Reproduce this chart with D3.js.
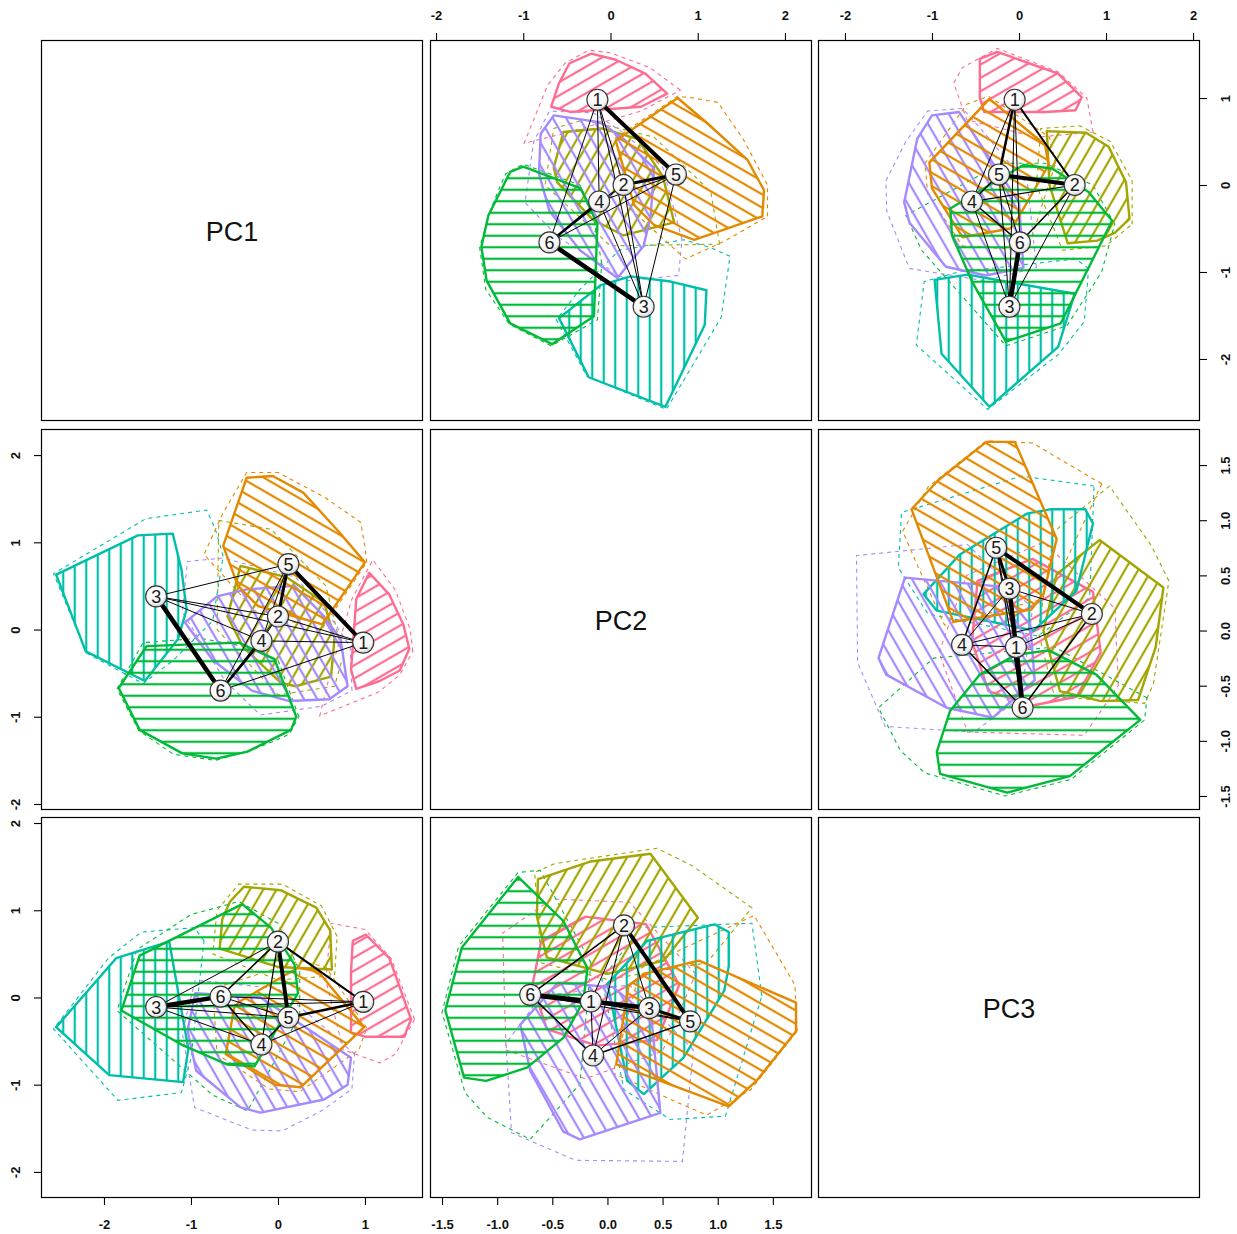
<!DOCTYPE html>
<html><head><meta charset="utf-8">
<script src="https://cdn.jsdelivr.net/npm/d3@7"></script>
<style>body{margin:0;background:#fff} svg{display:block}</style>
</head><body><svg id="c" width="1237" height="1234"></svg>
<script>
// ---------------- DATA ----------------
const varNames = ["PC1", "PC2", "PC3"];
const groupIds = ["1", "2", "3", "4", "5", "6"];
const groupColors = ["#FF6C91", "#A3A500", "#00BFA8", "#A58AFF", "#E38900", "#00BA38"];
const hatchAngles = [30, 60, 90, 120, 150, 180];

const centroidPC1 = [0.98, 0.00, -1.40, -0.19, 0.12, -0.66];
const centroidPC2 = [-0.15, 0.15, 0.38, -0.13, 0.75, -0.70];
const centroidPC3 = [-0.05, 0.64, -0.11, -0.54, -0.23, 0.01];

const edgePairs = [[1,2],[1,3],[1,4],[1,5],[1,6],[2,3],[2,4],[2,5],[2,6],[3,4],[3,5],[3,6],[4,5],[4,6],[5,6]];
const edgeWidthPC1PC2 = [1, 1, 1, 4, 1, 1, 1, 3, 1, 1, 1, 4.5, 1, 2.5, 1];
const edgeWidthPC1PC3 = [2, 1, 1, 2.5, 1, 1, 1.2, 4, 1.5, 1, 1, 4.5, 1.5, 1.5, 1];
const edgeWidthPC2PC3 = [1, 4.5, 1, 1, 5, 1, 1, 4, 1.5, 1, 3, 1, 1.5, 1.5, 1];

// hulls: (first var, second var) per group 1..6
const innerHullPC1PC2 = [
  [[1.05,0.65],[1.28,0.40],[1.44,0.06],[1.51,-0.22],[1.40,-0.47],[1.17,-0.59],[0.90,-0.68],[0.84,-0.46],[0.90,0.35]],
  [[-0.43,0.73],[0.10,0.60],[0.53,0.31],[0.65,-0.10],[0.61,-0.54],[0.20,-0.65],[0.03,-0.61],[-0.40,-0.20],[-0.58,0.15]],
  [[-2.55,0.63],[-2.11,0.82],[-1.61,1.08],[-1.21,1.10],[-1.11,0.69],[-1.05,0.23],[-1.15,-0.11],[-1.53,-0.59],[-2.21,-0.25]],
  [[-1.07,0.08],[-0.70,0.38],[-0.36,0.46],[0.19,0.50],[0.53,0.15],[0.72,-0.11],[0.80,-0.65],[0.59,-0.80],[0.13,-0.82],[-0.30,-0.70],[-0.75,-0.35]],
  [[-0.36,1.74],[-0.06,1.76],[0.29,1.57],[0.71,1.11],[1.00,0.77],[0.85,0.62],[0.59,0.31],[0.51,0.06],[-0.23,0.27],[-0.46,0.50],[-0.63,0.96]],
  [[-1.83,-0.67],[-1.51,-0.19],[-1.00,-0.17],[-0.45,-0.15],[-0.04,-0.34],[0.21,-1.00],[0.15,-1.15],[-0.35,-1.40],[-0.71,-1.48],[-1.10,-1.42],[-1.59,-1.15]]
];
const outerHullPC1PC2 = [
  [[1.09,0.80],[1.35,0.45],[1.52,0.00],[1.55,-0.25],[1.40,-0.52],[1.15,-0.72],[0.48,-0.99],[0.60,-0.50],[0.85,0.35]],
  [[-0.68,1.25],[-0.08,1.15],[0.55,0.50],[0.75,-0.30],[0.65,-0.65],[0.00,-0.75],[-0.70,0.00]],
  [[-2.58,0.64],[-2.05,0.88],[-1.52,1.27],[-0.82,1.37],[-0.72,1.15],[-0.63,0.84],[-0.75,0.10],[-1.20,-0.35],[-1.55,-0.62],[-2.20,-0.27]],
  [[-1.10,0.20],[-1.04,0.78],[-0.63,0.82],[0.20,0.60],[0.60,0.15],[0.83,-0.20],[0.85,-0.70],[0.50,-0.88],[-0.20,-0.98],[-0.60,-0.60]],
  [[-0.64,1.32],[-0.36,1.80],[0.00,1.80],[0.53,1.52],[0.95,1.23],[1.00,0.95],[1.02,0.77],[0.60,0.20],[0.50,0.00],[-0.25,0.20],[-0.85,0.86]],
  [[-1.85,-0.68],[-1.55,-0.15],[-0.90,-0.10],[-0.35,-0.20],[0.00,-0.35],[0.24,-1.00],[0.13,-1.20],[-0.05,-1.28],[-0.30,-1.38],[-0.72,-1.50],[-1.20,-1.43],[-1.60,-1.16]]
];
const innerHullPC1PC3 = [
  [[0.86,0.65],[1.01,0.72],[1.28,0.45],[1.53,-0.25],[1.45,-0.45],[1.00,-0.45],[0.84,-0.40],[0.84,0.30]],
  [[-0.39,1.27],[0.03,1.23],[0.44,1.03],[0.60,0.77],[0.62,0.32],[0.00,0.35],[-0.67,0.56],[-0.64,0.90],[-0.55,1.10]],
  [[-2.55,-0.34],[-1.86,0.45],[-1.25,0.64],[-1.03,-0.59],[-1.09,-0.97],[-1.94,-0.89]],
  [[0.84,-0.69],[0.80,-1.00],[0.53,-1.17],[-0.20,-1.32],[-0.43,-1.26],[-0.94,-0.84],[-1.04,-0.38],[-0.95,0.05],[-0.20,0.00]],
  [[0.23,0.34],[0.46,0.30],[0.99,-0.34],[0.26,-1.03],[-0.04,-1.00],[-0.60,-0.65],[-0.50,-0.10],[-0.43,-0.04]],
  [[-1.80,-0.15],[-1.59,0.48],[-0.41,1.07],[-0.08,0.80],[0.19,0.38],[0.23,0.05],[-0.27,-0.79],[-0.58,-0.77],[-1.11,-0.54]]
];
const outerHullPC1PC3 = [
  [[0.61,0.85],[1.00,0.78],[1.30,0.45],[1.57,-0.25],[1.35,-0.65],[1.17,-0.75],[0.75,-0.60],[0.55,0.20]],
  [[-0.45,1.30],[0.05,1.30],[0.50,1.05],[0.68,0.70],[0.65,0.25],[0.00,0.20],[-0.75,0.50],[-0.70,1.00]],
  [[-2.58,-0.36],[-1.95,0.45],[-1.57,0.75],[-0.96,0.80],[-0.85,0.65],[-1.00,-0.70],[-1.11,-1.09],[-1.84,-1.18],[-2.34,-0.60]],
  [[0.88,-0.65],[0.85,-1.05],[0.50,-1.30],[0.05,-1.53],[-0.30,-1.52],[-0.96,-1.26],[-1.10,-0.40],[-0.95,0.20],[0.00,0.10],[0.60,-0.40]],
  [[0.25,0.42],[0.55,0.35],[1.02,-0.35],[0.93,-0.60],[0.71,-0.72],[0.25,-1.08],[-0.10,-1.05],[-0.70,-0.65],[-0.75,0.10]],
  [[-1.85,-0.15],[-1.62,0.55],[-1.00,0.95],[-0.45,1.10],[0.00,0.85],[0.25,0.30],[0.25,-0.20],[-0.35,-1.30],[-0.75,-1.12],[-1.20,-0.65]]
];
const innerHullPC2PC3 = [
  [[-0.60,0.50],[-0.20,0.72],[0.35,0.65],[0.65,0.10],[0.45,-0.40],[-0.10,-0.45],[-0.55,-0.30],[-0.68,0.10]],
  [[0.39,1.29],[0.82,0.71],[0.51,0.32],[0.00,0.20],[-0.55,0.35],[-0.64,0.72],[-0.63,1.06],[-0.15,1.22]],
  [[0.36,0.50],[0.97,0.65],[1.10,0.58],[1.10,0.27],[1.06,0.05],[0.69,-0.56],[0.33,-0.89],[0.18,-0.77],[0.00,0.11]],
  [[-0.79,-0.26],[-0.45,0.12],[0.05,0.08],[0.40,-0.21],[0.48,-1.06],[-0.25,-1.30],[-0.40,-1.23],[-0.70,-0.68]],
  [[0.19,0.09],[0.33,0.20],[0.83,0.32],[1.71,-0.06],[1.71,-0.32],[1.36,-0.76],[1.10,-1.00],[0.82,-0.83],[0.08,-0.62]],
  [[-0.81,1.08],[-0.40,0.68],[-0.18,0.25],[-0.22,-0.05],[-0.40,-0.38],[-0.73,-0.65],[-1.10,-0.77],[-1.30,-0.74],[-1.47,-0.13],[-1.32,0.44]]
];
const outerHullPC2PC3 = [
  [[-0.95,0.57],[-0.50,0.88],[0.20,0.85],[0.80,0.20],[0.50,-0.50],[-0.20,-0.75],[-0.92,-0.49]],
  [[0.45,1.34],[0.77,1.18],[1.31,0.80],[0.90,0.30],[0.00,0.15],[-0.60,0.30],[-0.66,1.12],[-0.48,1.20]],
  [[0.30,0.62],[1.31,0.66],[1.40,0.00],[1.22,-0.55],[1.07,-1.09],[0.57,-1.12],[0.15,-0.85],[-0.05,0.15]],
  [[-0.92,-0.43],[-0.87,-1.24],[-0.29,-1.49],[0.68,-1.50],[0.78,-0.49],[0.20,0.10],[-0.60,0.00]],
  [[0.30,0.25],[0.90,0.50],[1.33,0.73],[1.70,0.10],[1.72,-0.32],[1.30,-0.85],[0.90,-1.08],[0.60,-0.95],[0.05,-0.70]],
  [[-0.81,1.12],[-0.61,1.14],[-0.15,0.30],[-0.25,-0.80],[-0.70,-1.30],[-1.09,-1.10],[-1.29,-0.88],[-1.50,-0.15],[-1.35,0.45]]
];

const ticksInt = [-2, -1, 0, 1, 2];
const ticksHalf = [-1.5, -1.0, -0.5, 0.0, 0.5, 1.0, 1.5];

// ---------------- LAYOUT ----------------
const colX = [41, 430, 818], rowY = [40, 429, 817];
const panelW = 382, panelH = 381;
const panels = [
  {r:0, c:1, xv:"PC2", yv:"PC1", xlim:[-2.069, 2.310], ylim:[-2.713, 1.667], axes:[["top", ticksInt]]},
  {r:0, c:2, xv:"PC3", yv:"PC1", xlim:[-2.310, 2.080], ylim:[-2.713, 1.667], axes:[["top", ticksInt], ["right", [-2,-1,0,1]]]},
  {r:1, c:0, xv:"PC1", yv:"PC2", xlim:[-2.724, 1.667], ylim:[-2.069, 2.299], axes:[["left", ticksInt]]},
  {r:1, c:2, xv:"PC3", yv:"PC2", xlim:[-1.850, 1.623], ylim:[-1.627, 1.827], axes:[["right", ticksHalf]]},
  {r:2, c:0, xv:"PC1", yv:"PC3", xlim:[-2.724, 1.667], ylim:[-2.299, 2.069], axes:[["left", ticksInt], ["bottom", [-2,-1,0,1]]]},
  {r:2, c:1, xv:"PC2", yv:"PC3", xlim:[-1.609, 1.855], ylim:[-1.832, 1.623], axes:[["bottom", ticksHalf]]}
];

const centroids = {PC1: centroidPC1, PC2: centroidPC2, PC3: centroidPC3};
const pairData = {
  "PC1|PC2": {inner: innerHullPC1PC2, outer: outerHullPC1PC2, widths: edgeWidthPC1PC2},
  "PC1|PC3": {inner: innerHullPC1PC3, outer: outerHullPC1PC3, widths: edgeWidthPC1PC3},
  "PC2|PC3": {inner: innerHullPC2PC3, outer: outerHullPC2PC3, widths: edgeWidthPC2PC3}
};

const svg = d3.select("#c");
const defs = svg.append("defs");
const hatchGap = 11.5;
groupIds.forEach((g, i) => {
  const p = defs.append("pattern").attr("id", "hatch" + i)
    .attr("patternUnits", "userSpaceOnUse").attr("width", 20).attr("height", hatchGap)
    .attr("patternTransform", `rotate(${-hatchAngles[i]})`);
  p.append("line").attr("x1", 0).attr("x2", 20).attr("y1", hatchGap / 2).attr("y2", hatchGap / 2)
    .attr("stroke", groupColors[i]).attr("stroke-width", 2.2);
});
const grad = defs.append("radialGradient").attr("id", "ballFill").attr("cx", "45%").attr("cy", "40%").attr("r", "60%");
grad.append("stop").attr("offset", "0%").attr("stop-color", "#ffffff");
grad.append("stop").attr("offset", "70%").attr("stop-color", "#f7f7f7");
grad.append("stop").attr("offset", "100%").attr("stop-color", "#cfcfcf");

const fmtTick = (vals) => (d => vals === ticksHalf ? d.toFixed(1) : String(d));
const axisFont = "'Liberation Sans Narrow', 'Liberation Sans', Arial, sans-serif";

panels.forEach((P, pi) => {
  const x0 = colX[P.c], y0 = rowY[P.r];
  const x = d3.scaleLinear().domain(P.xlim).range([x0, x0 + panelW]);
  const y = d3.scaleLinear().domain(P.ylim).range([y0 + panelH, y0]);
  const vi = varNames.indexOf(P.xv), vj = varNames.indexOf(P.yv);
  const swap = vi > vj;
  const key = swap ? P.yv + "|" + P.xv : P.xv + "|" + P.yv;
  const D = pairData[key];
  const toPx = pt => swap ? [x(pt[1]), y(pt[0])] : [x(pt[0]), y(pt[1])];

  defs.append("clipPath").attr("id", "clip" + pi).append("rect")
    .attr("x", x0).attr("y", y0).attr("width", panelW).attr("height", panelH);
  const g = svg.append("g").attr("clip-path", `url(#clip${pi})`);
  const line = d3.line();

  D.outer.forEach((pts, gi) => {
    const h = d3.polygonHull(pts.map(toPx));
    g.append("path").attr("d", line(h) + "Z").attr("fill", "none")
      .attr("stroke", groupColors[gi]).attr("stroke-width", 1.1).attr("stroke-dasharray", "4,4");
  });
  D.inner.forEach((pts, gi) => {
    const h = d3.polygonHull(pts.map(toPx));
    g.append("path").attr("d", line(h) + "Z").attr("fill", `url(#hatch${gi})`)
      .attr("stroke", groupColors[gi]).attr("stroke-width", 2.4).attr("stroke-linejoin", "round");
  });
  const cx = centroids[P.xv], cy = centroids[P.yv];
  edgePairs.forEach((e, k) => {
    const a = e[0] - 1, b = e[1] - 1;
    g.append("line").attr("x1", x(cx[a])).attr("y1", y(cy[a])).attr("x2", x(cx[b])).attr("y2", y(cy[b]))
      .attr("stroke", "#000").attr("stroke-width", D.widths[k]).attr("stroke-linecap", "round");
  });
  groupIds.forEach((id, k) => {
    g.append("circle").attr("cx", x(cx[k])).attr("cy", y(cy[k])).attr("r", 10.5)
      .attr("fill", "url(#ballFill)").attr("stroke", "#333").attr("stroke-width", 1.1);
    g.append("text").attr("x", x(cx[k])).attr("y", y(cy[k])).attr("dy", "0.36em")
      .attr("text-anchor", "middle").attr("font-family", "'Liberation Sans', Arial, sans-serif")
      .attr("font-size", 18).attr("fill", "#1a1a1a").text(id);
  });

  P.axes.forEach(([side, vals]) => {
    const f = fmtTick(vals);
    let ax, tr;
    if (side === "top") { ax = d3.axisTop(x); tr = `translate(0,${y0})`; }
    if (side === "bottom") { ax = d3.axisBottom(x); tr = `translate(0,${y0 + panelH})`; }
    if (side === "left") { ax = d3.axisLeft(y); tr = `translate(${x0},0)`; }
    if (side === "right") { ax = d3.axisRight(y); tr = `translate(${x0 + panelW},0)`; }
    ax.tickValues(vals).tickSize(7).tickSizeOuter(0).tickFormat(f);
    const ag = svg.append("g").attr("transform", tr).call(ax);
    ag.select(".domain").remove();
    ag.selectAll(".tick line").attr("stroke", "#000").attr("stroke-width", 1.1);
    const t = ag.selectAll(".tick text").attr("font-family", axisFont).attr("font-size", 13)
      .attr("font-weight", 700).attr("fill", "#111").attr("dy", "0.35em").attr("text-anchor", "middle");
    if (side === "top") t.attr("x", 0).attr("y", -25);
    if (side === "bottom") t.attr("x", 0).attr("y", 26);
    if (side === "left") t.attr("x", 0).attr("y", 0).attr("transform", "translate(-26,0) rotate(-90)");
    if (side === "right") t.attr("x", 0).attr("y", 0).attr("transform", "translate(25,0) rotate(-90)");
  });
});

for (let r = 0; r < 3; r++) for (let c = 0; c < 3; c++) {
  svg.append("rect").attr("x", colX[c] + 0.5).attr("y", rowY[r] + 0.5)
    .attr("width", panelW - 1).attr("height", panelH - 1)
    .attr("fill", "none").attr("stroke", "#000").attr("stroke-width", 1.2);
  if (r === c) {
    svg.append("text").attr("x", colX[c] + panelW / 2).attr("y", rowY[r] + panelH / 2 + 1)
      .attr("dy", "0.35em").attr("text-anchor", "middle")
      .attr("font-family", "'Liberation Sans', Arial, sans-serif").attr("font-size", 27)
      .attr("fill", "#111").text(varNames[r]);
  }
}
</script></body></html>
